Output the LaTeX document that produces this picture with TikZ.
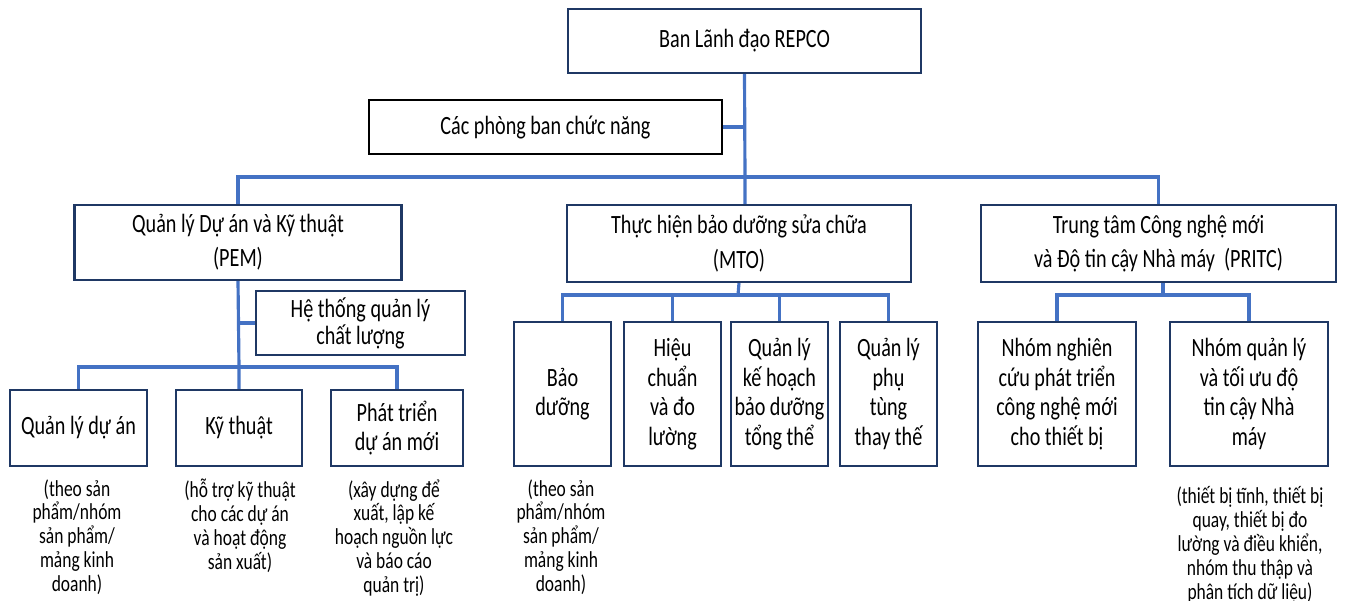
\documentclass[tikz,border=0pt]{standalone}
\usepackage{fontspec}
\setmainfont{Carlito}[FakeStretch=0.765]
\usepackage{tikz}
\usetikzlibrary{positioning}
\definecolor{linkblue}{RGB}{68,114,196}
\definecolor{boxnavy}{RGB}{31,56,100}
\tikzstyle{box} = [draw=boxnavy, line width=1.3pt, align=center, inner sep=2pt, font=\fontsize{15}{16.8}\selectfont]
\tikzstyle{unit} = [box, font=\fontsize{15}{19.5}\selectfont]
\tikzstyle{link} = [draw=linkblue, line width=1.8pt]
\tikzset{note/.style={align=center, inner sep=0pt, anchor=north, font=\fontsize{13}{13.6}\selectfont}}

\begin{document}
\begin{tikzpicture}[x=0.02cm, y=-0.02cm]
\useasboundingbox (0,0) rectangle (1346,600);

% top
\node[box, minimum width=7.06cm, minimum height=1.28cm] (lead) at (744.5,41) {Ban Lãnh đạo REPCO};
\node[box, draw=black, minimum width=7.06cm, minimum height=1.08cm] (func) at (545.5,127) {Các phòng ban chức năng};

% level 2
\node[unit, minimum width=6.54cm, minimum height=1.5cm] (pem) at (238,242.5) {Quản lý Dự án và Kỹ thuật\\(PEM)};
\node[unit, minimum width=6.88cm, minimum height=1.54cm] (mto) at (739,243.5) {Thực hiện bảo dưỡng sửa chữa\\(MTO)};
\node[unit, minimum width=7.1cm, minimum height=1.54cm] (pritc) at (1158.5,243.5) {Trung tâm Công nghệ mới\\và Độ tin cậy Nhà máy~~(PRITC)};

% PEM
\node[box, minimum width=4.18cm, minimum height=1.28cm, font=\fontsize{15}{15.5}\selectfont] (qms) at (360.5,323) {Hệ thống quản lý\\chất lượng};
\node[box, minimum width=2.74cm, minimum height=1.52cm] (qlda) at (78.5,428) {Quản lý dự án};
\node[box, minimum width=2.52cm, minimum height=1.52cm] (kt) at (239,428) {Kỹ thuật};
\node[box, minimum width=2.64cm, minimum height=1.52cm] (ptda) at (397,428) {Phát triển\\dự án mới};

% MTO
\node[box, minimum width=1.94cm, minimum height=2.88cm] (bd) at (562.5,394) {Bảo\\dưỡng};
\node[box, minimum width=1.94cm, minimum height=2.88cm] (hc) at (672.5,394) {Hiệu\\chuẩn\\và đo\\lường};
\node[box, minimum width=1.94cm, minimum height=2.88cm] (khbd) at (779.5,394) {Quản lý\\kế hoạch\\bảo dưỡng\\tổng thể};
\node[box, minimum width=1.94cm, minimum height=2.88cm] (ptt) at (888.5,394) {Quản lý\\phụ\\tùng\\thay thế};

% PRITC
\node[box, minimum width=3.16cm, minimum height=2.88cm] (ncpt) at (1057,394) {Nhóm nghiên\\cứu phát triển\\công nghệ mới\\cho thiết bị};
\node[box, minimum width=3.16cm, minimum height=2.88cm] (qltc) at (1249,394) {Nhóm quản lý\\và tối ưu độ\\tin cậy Nhà\\máy};

% notes
\node[note] (n1) at (77,479) {(theo sản\\phẩm/nhóm\\sản phẩm/\\mảng kinh\\doanh)};
\node[note] (n2) at (240,479) {(hỗ trợ kỹ thuật\\cho các dự án\\và hoạt động\\sản xuất)};
\node[note] (n3) at (394,479) {(xây dựng để\\xuất, lập kế\\hoạch nguồn lực\\và báo cáo\\quản trị)};
\node[note] (n4) at (561,479) {(theo sản\\phẩm/nhóm\\sản phẩm/\\mảng kinh\\doanh)};
\node[note] (n5) at (1250,486) {(thiết bị tĩnh, thiết bị\\quay, thiết bị đo\\lường và điều khiển,\\nhóm thu thập và\\phân tích dữ liệu)};

\coordinate (bus) at (745,177);
\coordinate (pbus) at (239,367);
\coordinate (mbus) at (738,295);
\coordinate (rbus) at (1163,295);

\draw[link] (lead.south) -- (bus) -- (bus |- mto.north);
\draw[link] (func.east) -- (lead.south |- func.east);
\draw[link] (pem.north) |- (bus) -| (pritc.north);

\draw[link] (pem.south) -- (pbus) -- (kt.north);
\draw[link] (qms.west) -- (pem.south |- qms.west);
\draw[link] (qlda.north) |- (pbus) -| (ptda.north);

\draw[link] (mto.south) -- (mbus);
\draw[link] (bd.north) |- (mbus) -| (ptt.north);
\draw[link] (hc.north) -- (hc.north |- mbus);
\draw[link] (khbd.north) -- (khbd.north |- mbus);

\draw[link] (rbus |- pritc.south) -- (rbus);
\draw[link] (ncpt.north) |- (rbus) -| (qltc.north);
\end{tikzpicture}
\end{document}
